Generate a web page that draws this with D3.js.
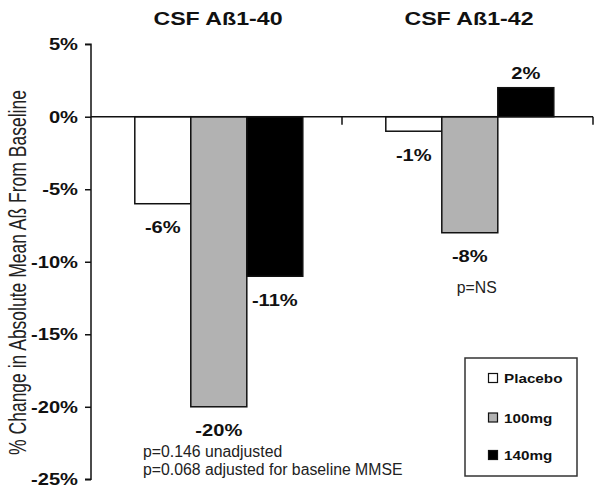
<!DOCTYPE html>
<html><head><meta charset="utf-8">
<script src="https://cdn.jsdelivr.net/npm/d3@7/dist/d3.min.js"></script>
<style>
body{margin:0;background:#fff;}
svg{display:block;}
.b{font-family:"Liberation Sans",Arial,sans-serif;font-weight:bold;fill:#111;}
.r{font-family:"Liberation Sans",Arial,sans-serif;fill:#222;}
.p{font-family:"Liberation Sans",Arial,sans-serif;fill:#222;}
</style></head>
<body><svg id="c" width="600" height="494"></svg>
<script>
const categories = ["CSF Aß1-40", "CSF Aß1-42"];
const series = ["Placebo", "100mg", "140mg"];
const placebo = [-6, -1];
const mg100 = [-20, -8];
const mg140 = [-11, 2];
const seriesValues = [placebo, mg100, mg140];
const seriesColors = ["#ffffff", "#b2b2b2", "#000000"];
const yTicks = [5, 0, -5, -10, -15, -20, -25];
const yTitle = "% Change in Absolute Mean Aß From Baseline";
const notesGroup1 = ["p=0.146 unadjusted", "p=0.068 adjusted for baseline MMSE"];
const notesGroup2 = ["p=NS"];

const SX = 1.22;
const svg = d3.select("#c");
const st = (x, y) => `translate(${x},${y}) scale(${SX},1)`;

const y = d3.scaleLinear().domain([5, -25]).range([44.2, 479.3]);
const x0 = d3.scaleBand().domain(categories).range([91, 593]).padding(0);
const x1 = d3.scaleBand().domain(series).range([2.3, x0.bandwidth() + 2.3]).paddingInner(0).paddingOuter(0.741);

// y axis
const yAxis = d3.axisLeft(y).tickValues(yTicks).tickSize(6).tickFormat(d => d + "%");
const ga = svg.append("g").attr("transform", "translate(91,0)").call(yAxis);
ga.select(".domain").attr("stroke", "#111").attr("stroke-width", 1.5).attr("d", `M-6,${y(5)}H0V${y(-25)}H-6`);
ga.selectAll(".tick line").attr("stroke", "#111").attr("stroke-width", 1.5);
ga.selectAll(".tick text").remove();
yTicks.forEach(t => {
  svg.append("text").attr("class", "b").attr("text-anchor", "end")
    .attr("font-size", 16.5).attr("dy", "0.36em")
    .attr("transform", st(78, y(t))).text(t + "%");
});

// y title: measure, then fit to span 365px, glyph cap height ~17.5px
const yt = svg.append("text").attr("class", "r").attr("text-anchor", "middle")
  .attr("font-size", 18).text(yTitle);
const len18 = yt.node().getComputedTextLength();
const fsT = 18 * 365 / len18;
const sxT = 17.5 / (0.716 * fsT);
yt.attr("font-size", fsT)
  .attr("transform", `translate(26,272.5) scale(${sxT},1) rotate(-90)`);

// bars
const data = [];
categories.forEach((c, i) => series.forEach((s, j) => data.push({c, s, j, v: seriesValues[j][i]})));
svg.append("g").selectAll("rect").data(data).join("rect")
  .attr("x", d => x0(d.c) + x1(d.s))
  .attr("width", x1.bandwidth())
  .attr("y", d => y(Math.max(0, d.v)))
  .attr("height", d => Math.abs(y(d.v) - y(0)))
  .attr("fill", d => seriesColors[d.j])
  .attr("stroke", "#111").attr("stroke-width", 1.5);

// zero line / x axis
const xAxis = d3.axisBottom(x0).tickSize(8).tickFormat("");
const gx = svg.append("g").attr("transform", `translate(0,${y(0)})`).call(xAxis);
gx.select(".domain").attr("stroke", "#111").attr("stroke-width", 1.5).attr("d", "M91,0H593");
gx.selectAll(".tick").remove();
[x0.range()[0] + x0.bandwidth(), x0.range()[1]].forEach(xx => {
  gx.append("line").attr("x1", xx).attr("x2", xx).attr("y1", 0).attr("y2", 8)
    .attr("stroke", "#111").attr("stroke-width", 1.5);
});

// value labels
data.forEach(d => {
  const cx = x0(d.c) + x1(d.s) + x1.bandwidth() / 2;
  const yy = d.v < 0 ? y(d.v) + 29.5 : y(d.v) - 9;
  svg.append("text").attr("class", "b").attr("text-anchor", "middle")
    .attr("font-size", 16.5).attr("transform", st(cx, yy)).text(d.v + "%");
});

// titles
categories.forEach(c => {
  svg.append("text").attr("class", "b").attr("text-anchor", "middle")
    .attr("font-size", 19).attr("transform", st(x0(c) + x0.bandwidth() / 2 + 1.5, 25)).text(c);
});

// notes
notesGroup1.forEach((t, i) => {
  svg.append("text").attr("class", "p").attr("font-size", 15.8)
    .attr("x", x0(categories[0]) + 52).attr("y", y(-20) + 50.5 + i * 18).text(t);
});
notesGroup2.forEach(t => {
  svg.append("text").attr("class", "p").attr("font-size", 15.8).attr("text-anchor", "middle")
    .attr("x", x0(categories[1]) + x1(series[1]) + x1.bandwidth() / 2 + 7).attr("y", y(-8) + 60).text(t);
});

// legend
const lg = svg.append("g").attr("transform", "translate(465,358)");
lg.append("rect").attr("width", 112).attr("height", 118).attr("fill", "#fff")
  .attr("stroke", "#333").attr("stroke-width", 1.5);
const rows = [25, 64.5, 102];
series.forEach((s, j) => {
  lg.append("rect").attr("x", 23.5).attr("y", rows[j] - 9.5).attr("width", 9).attr("height", 9)
    .attr("fill", seriesColors[j]).attr("stroke", "#111").attr("stroke-width", 1.2);
  lg.append("text").attr("class", "b").attr("font-size", 12.5)
    .attr("transform", st(39, rows[j])).text(s);
});
</script></body></html>
